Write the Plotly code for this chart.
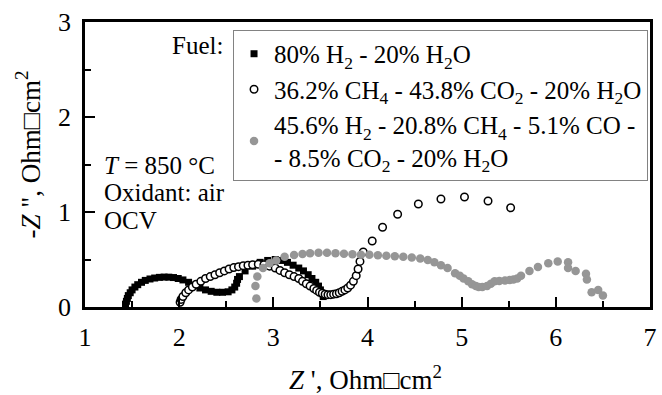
import plotly.graph_objects as go

# ---- data ----
h2_x = [1.43, 1.44, 1.45, 1.46, 1.48, 1.50, 1.53, 1.56, 1.60, 1.64, 1.69, 1.74, 1.79, 1.84,
        1.89, 1.94, 1.99, 2.04, 2.10, 2.16, 2.22, 2.28, 2.34, 2.40, 2.46, 2.52, 2.56, 2.59,
        2.61, 2.62, 2.64, 2.70, 2.78, 2.86, 2.94, 3.02, 3.09, 3.15, 3.21, 3.27, 3.32, 3.37,
        3.41, 3.45, 3.48, 3.50, 3.52, 3.53]
h2_y = [0.03, 0.06, 0.09, 0.12, 0.15, 0.18, 0.21, 0.235, 0.26, 0.28, 0.295, 0.305, 0.312, 0.315,
        0.314, 0.31, 0.30, 0.285, 0.26, 0.23, 0.20, 0.18, 0.165, 0.155, 0.155, 0.16, 0.18, 0.21,
        0.25, 0.29, 0.32, 0.38, 0.43, 0.47, 0.49, 0.50, 0.49, 0.47, 0.44, 0.41, 0.38, 0.34,
        0.30, 0.26, 0.22, 0.18, 0.14, 0.11]

ch4_x = [2.01, 2.02, 2.04, 2.07, 2.10, 2.14, 2.18, 2.23, 2.28, 2.33, 2.38, 2.43, 2.48, 2.53,
         2.58, 2.63, 2.68, 2.73, 2.78, 2.84, 2.90, 2.96, 3.02, 3.07, 3.12, 3.17, 3.22, 3.27,
         3.31, 3.35, 3.39, 3.43, 3.46, 3.49, 3.52, 3.55, 3.58, 3.61, 3.64, 3.67, 3.70, 3.73,
         3.76, 3.79, 3.82, 3.85, 3.88, 3.90, 3.92, 3.955, 4.05, 4.16, 4.32, 4.54, 4.78, 5.03,
         5.28, 5.52]
ch4_y = [0.05, 0.08, 0.11, 0.15, 0.18, 0.21, 0.24, 0.27, 0.30, 0.32, 0.34, 0.36, 0.38, 0.40,
         0.415, 0.425, 0.435, 0.44, 0.445, 0.45, 0.445, 0.43, 0.41, 0.385, 0.36, 0.34, 0.32, 0.30,
         0.27, 0.245, 0.22, 0.195, 0.175, 0.155, 0.145, 0.135, 0.13, 0.13, 0.135, 0.14, 0.15, 0.165,
         0.18, 0.20, 0.23, 0.27, 0.33, 0.40, 0.48, 0.58, 0.695, 0.84, 0.976, 1.084, 1.137, 1.158,
         1.116, 1.045]

mix_x = [2.82, 2.81, 2.83, 2.89, 2.96, 3.03, 3.12, 3.22, 3.31, 3.39, 3.48, 3.57, 3.66, 3.75,
         3.84, 3.93, 4.02, 4.11, 4.20, 4.29, 4.38, 4.47, 4.56, 4.64, 4.71, 4.78, 4.85, 4.93,
         4.98, 5.02, 5.07, 5.11, 5.15, 5.18, 5.22, 5.27, 5.31, 5.35, 5.40, 5.46, 5.51, 5.55,
         5.59, 5.63, 5.72, 5.81, 5.92, 6.02, 6.13, 6.13, 6.21, 6.32, 6.33, 6.38, 6.45, 6.50]
mix_y = [0.09, 0.22, 0.32, 0.41, 0.46, 0.49, 0.53, 0.547, 0.558, 0.565, 0.57, 0.57, 0.565, 0.56,
         0.555, 0.55, 0.55, 0.545, 0.54, 0.535, 0.53, 0.52, 0.51, 0.495, 0.47, 0.44, 0.41, 0.355,
         0.33, 0.30, 0.27, 0.24, 0.22, 0.21, 0.21, 0.22, 0.245, 0.27, 0.275, 0.28, 0.285, 0.29,
         0.30, 0.33, 0.38, 0.42, 0.46, 0.48, 0.47, 0.41, 0.38, 0.35, 0.29, 0.155, 0.18, 0.12]

names = ["80% H<sub>2</sub> - 20% H<sub>2</sub>O",
         "36.2% CH<sub>4</sub> - 43.8% CO<sub>2</sub> - 20% H<sub>2</sub>O",
         "45.6% H<sub>2</sub> - 20.8% CH<sub>4</sub> - 5.1% CO -<br>- 8.5% CO<sub>2</sub> - 20% H<sub>2</sub>O"]

FONT = "Liberation Serif"
GRAY = "rgb(150,150,150)"
FS = 26

fig = go.Figure()
fig.add_trace(go.Scatter(x=h2_x, y=h2_y, mode="markers", name=names[0],
                         marker=dict(symbol="square", size=7, color="black")))
fig.add_trace(go.Scatter(x=ch4_x, y=ch4_y, mode="markers", name=names[1],
                         marker=dict(symbol="circle", size=7.5, color="white",
                                     line=dict(color="black", width=1.5))))
fig.add_trace(go.Scatter(x=mix_x, y=mix_y, mode="markers", name=names[2],
                         marker=dict(symbol="circle", size=8.5, color=GRAY)))

axis_common = dict(showline=True, linecolor="black", linewidth=2.5, mirror=True,
                   ticks="inside", ticklen=10, tickwidth=2, tickcolor="black",
                   showgrid=False, zeroline=False,
                   tickfont=dict(family=FONT, size=FS, color="black"))
fig.update_xaxes(range=[1, 7], dtick=1, tick0=1,
                 minor=dict(ticks="inside", ticklen=6, tickwidth=2, dtick=0.5, tickcolor="black"),
                 ticklabelstandoff=5, **axis_common)
fig.update_yaxes(range=[0, 3], dtick=1, tick0=0,
                 minor=dict(ticks="inside", ticklen=6, tickwidth=2, dtick=0.5, tickcolor="black"),
                 ticklabelstandoff=6, **axis_common)

fig.update_layout(
    width=662, height=395,
    margin=dict(l=85, r=5, t=22, b=88),
    plot_bgcolor="white", paper_bgcolor="white",
    font=dict(family=FONT, size=FS, color="black"),
    showlegend=True,
    legend=dict(x=0.262, y=0.972, xanchor="left", yanchor="top",
                bgcolor="white", bordercolor="rgb(130,130,130)", borderwidth=1,
                font=dict(family=FONT, size=25, color="black"),
                itemsizing="trace", tracegroupgap=0, itemwidth=30),
    annotations=[
        dict(text="Fuel:", x=0.247, y=0.918, xref="paper", yref="paper",
             xanchor="right", yanchor="middle", showarrow=False, font=dict(size=25)),
        dict(text="<i>T</i> = 850 °C", x=0.03, y=0.498, xref="paper", yref="paper",
             xanchor="left", yanchor="middle", showarrow=False, font=dict(size=25)),
        dict(text="Oxidant: air", x=0.03, y=0.402, xref="paper", yref="paper",
             xanchor="left", yanchor="middle", showarrow=False, font=dict(size=25)),
        dict(text="OCV", x=0.03, y=0.305, xref="paper", yref="paper",
             xanchor="left", yanchor="middle", showarrow=False, font=dict(size=25)),
        dict(text="<i>Z</i> ', Ohm\u25a1cm<sup>2</sup>", x=0.497, y=-0.25,
             xref="paper", yref="paper", xanchor="center", yanchor="middle",
             showarrow=False, font=dict(size=27)),
        dict(text="-<i>Z</i> \", Ohm\u25a1cm<sup>2</sup>", x=-0.1, y=0.533,
             xref="paper", yref="paper", xanchor="center", yanchor="middle",
             textangle=-90, showarrow=False, font=dict(size=27)),
    ],
)

fig.write_html("out.html")
